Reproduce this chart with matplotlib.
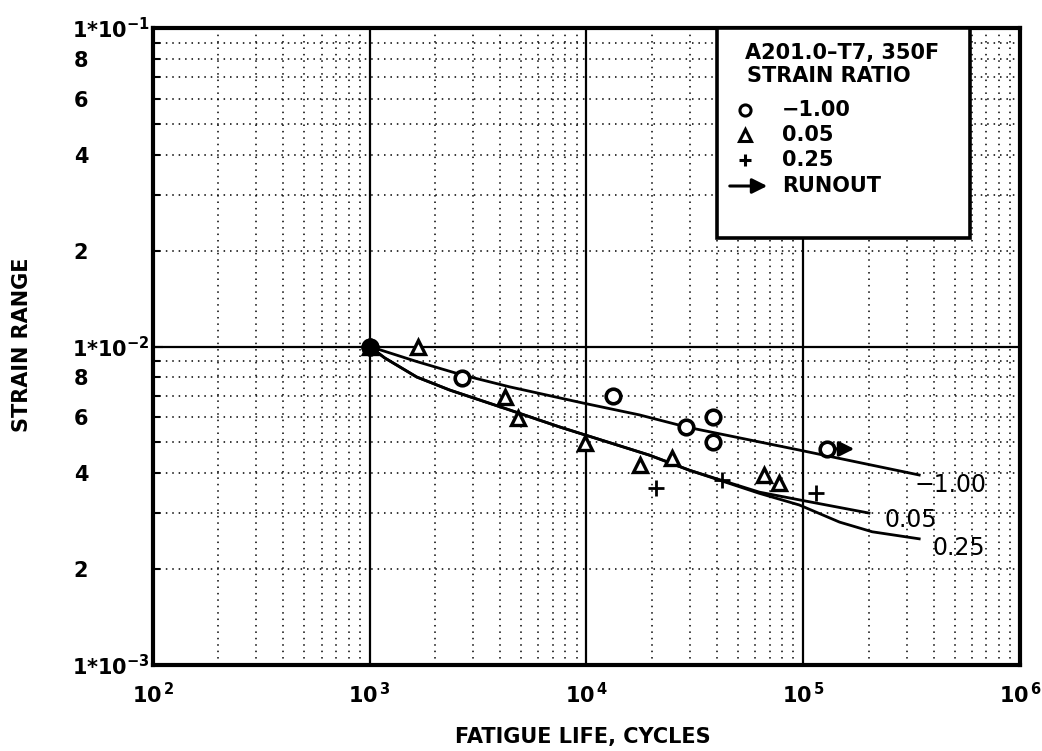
import matplotlib
matplotlib.use('Agg')
import matplotlib.pyplot as plt
from matplotlib.ticker import LogLocator, FuncFormatter
from matplotlib.patches import Rectangle
import numpy as np

plt.rcParams['font.family'] = ['DejaVu Sans']
plt.rcParams['mathtext.fontset'] = 'dejavusans'
plt.rcParams['mathtext.default'] = 'bf'

# ---- data ----
circ_x = [1000, 2655, 13200, 28900, 38500, 38500]
circ_y = [0.0100, 0.00796, 0.00700, 0.00558, 0.00600, 0.00501]
runout_x = [129000]
runout_y = [0.00477]
runout_end_x = [177000]

tri_x = [1000, 1664, 4190, 4810, 9800, 17700, 24900, 66100, 77400]
tri_y = [0.0100, 0.00995, 0.00694, 0.00597, 0.00498, 0.00425, 0.00447, 0.00395, 0.00373]

plus_x = [1000, 21000, 42300, 115000]
plus_y = [0.0100, 0.00360, 0.00381, 0.00347]

fit_m100_x = [1000, 1648, 2655, 4420, 9590, 17540, 29170, 95900, 342700]
fit_m100_y = [0.0100, 0.00897, 0.00815, 0.00747, 0.00665, 0.00610, 0.00558, 0.00473, 0.00395]

fit_005_x = [1000, 1172, 1648, 2339, 4420, 7520, 19500, 29800, 62700, 95900, 201000]
fit_005_y = [0.0100, 0.00921, 0.00802, 0.00730, 0.00632, 0.00559, 0.00456, 0.00409, 0.00349, 0.00330, 0.00300]

fit_025_x = [1000, 1172, 1648, 2339, 4420, 7520, 19500, 29800, 62700, 95900, 147000, 208000, 342700]
fit_025_y = [0.0100, 0.00921, 0.00802, 0.00730, 0.00632, 0.00559, 0.00456, 0.00409, 0.00346, 0.00318, 0.00281, 0.00262, 0.00249]

curve_labels = ['\u22121.00', '0.05', '0.25']
curve_label_x = [325000, 236000, 393000]
curve_label_y = [0.00367, 0.00285, 0.00233]

legend_title = ['A201.0\u2013T7, 350F', 'STRAIN RATIO']
legend_items = ['\u22121.00', '0.05', '0.25', 'RUNOUT']

xlabel = 'FATIGUE LIFE, CYCLES'
ylabel = 'STRAIN RANGE'

# ---- figure ----
fig = plt.figure(figsize=(10.42, 7.51), dpi=100)
ax = fig.add_axes([0.1468, 0.1145, 0.8321, 0.8482])
ax.set_xscale('log')
ax.set_yscale('log')
ax.set_xlim(1e2, 1e6)
ax.set_ylim(1e-3, 1e-1)

ax.xaxis.set_major_locator(LogLocator(base=10, numticks=10))
ax.xaxis.set_minor_locator(LogLocator(base=10, subs=np.arange(2, 10), numticks=10))
ax.yaxis.set_major_locator(LogLocator(base=10, numticks=10))
ax.yaxis.set_minor_locator(LogLocator(base=10, subs=np.arange(2, 10), numticks=10))

ax.grid(which='major', color='black', lw=1.6, ls='-')
ax.grid(which='minor', color='black', lw=1.1, ls=(0, (1, 3.2)))
ax.set_axisbelow(True)

def xmaj(v, pos):
    e = int(round(np.log10(v)))
    return r'10$^{\,%d}$' % e

def ymaj(v, pos):
    e = int(round(np.log10(v)))
    return r'1*10$^{%d}$' % e

def ymin(v, pos):
    m = v / 10 ** np.floor(np.log10(v) + 1e-9)
    m = int(round(m))
    return str(m) if m in (2, 4, 6, 8) else ''

ax.xaxis.set_major_formatter(FuncFormatter(xmaj))
ax.xaxis.set_minor_formatter(FuncFormatter(lambda v, p: ''))
ax.yaxis.set_major_formatter(FuncFormatter(ymaj))
ax.yaxis.set_minor_formatter(FuncFormatter(ymin))

ax.tick_params(axis='x', which='both', length=0, pad=12, labelsize=15)
ax.tick_params(axis='y', which='major', direction='in', length=7, width=1.5, pad=58, labelsize=15)
ax.tick_params(axis='y', which='minor', direction='in', length=5, width=1.5, pad=57, labelsize=15)
for lab in ax.get_yticklabels(which='both'):
    lab.set_horizontalalignment('left')
    lab.set_fontweight('bold')
for lab in ax.get_xticklabels(which='both'):
    lab.set_fontweight('bold')

for s in ax.spines.values():
    s.set_linewidth(3)
    s.set_color('black')

# curves
for cx, cy in [(fit_m100_x, fit_m100_y), (fit_005_x, fit_005_y), (fit_025_x, fit_025_y)]:
    ax.plot(cx, cy, color='black', lw=2.0, zorder=3)

# points
mk = dict(color='black', ls='none', zorder=4)
ax.plot(circ_x, circ_y, marker='o', ms=10.5, mfc='white', mew=2.6, **mk)
ax.plot(tri_x, tri_y, marker='^', ms=10, mfc='white', mew=2.4, **mk)
ax.plot(plus_x, plus_y, marker='+', ms=12, mew=2.0, **mk)
ax.plot([circ_x[0]], [circ_y[0]], marker='o', ms=12, mfc='black', **mk)

# runout
ax.plot(runout_x, runout_y, marker='o', ms=10.5, mfc='white', mew=2.6, **mk)
ax.annotate('', xy=(runout_end_x[0], runout_y[0]), xytext=(runout_x[0] * 1.06, runout_y[0]),
            arrowprops=dict(arrowstyle='-|>,head_length=0.9,head_width=0.45', color='black', lw=2.2),
            zorder=5)

# curve labels
for t, lx, ly in zip(curve_labels, curve_label_x, curve_label_y):
    ax.text(lx, ly, t, fontsize=17, ha='left', va='center', zorder=5)

# legend box (custom)
def px2ax(px, py):
    x0, x1 = 153, 1020
    y0, y1 = 665, 28
    return (px - x0) / (x1 - x0), (y0 - py) / (y0 - y1)

bl = px2ax(717, 238)
tr = px2ax(970, 28)
ax.add_patch(Rectangle(bl, tr[0] - bl[0], tr[1] - bl[1], transform=ax.transAxes,
                       facecolor='white', edgecolor='black', lw=2.6, zorder=6, clip_on=False))
tx, ty = px2ax(842, 53)
ax.text(tx, ty, legend_title[0], transform=ax.transAxes, ha='center', va='center',
        fontsize=15, fontweight='bold', zorder=7)
tx, ty = px2ax(829, 76)
ax.text(tx, ty, legend_title[1], transform=ax.transAxes, ha='center', va='center',
        fontsize=15, fontweight='bold', zorder=7)

marks = ['o', '^', '+']
rows_py = [110, 135, 160, 186]
for i, (t, py) in enumerate(zip(legend_items, rows_py)):
    tx, ty = px2ax(782, py)
    ax.text(tx, ty, t, transform=ax.transAxes, ha='left', va='center',
            fontsize=15, fontweight='bold', zorder=7)
    if i < 3:
        mx, my = px2ax(745, py)
        ax.plot([mx], [my], marker=marks[i], ms=8 if i < 2 else 9, mfc='white', mec='black',
                mew=2.2, color='black', transform=ax.transAxes, zorder=7, clip_on=False)
    else:
        ax0, ay0 = px2ax(727, py)
        ax1, ay1 = px2ax(770, py)
        ax.annotate('', xy=(ax1, ay1), xytext=(ax0, ay0), xycoords='axes fraction',
                    arrowprops=dict(arrowstyle='-|>,head_length=0.9,head_width=0.45',
                                    color='black', lw=2.2), zorder=7)

fig.text(583 / 1042, 1 - 737 / 751, xlabel, ha='center', va='center', fontsize=15, fontweight='bold')
fig.text(22 / 1042, 1 - 345 / 751, ylabel, ha='center', va='center', rotation=90,
         fontsize=15, fontweight='bold')

fig.savefig('out.png', dpi=100, facecolor='white')
